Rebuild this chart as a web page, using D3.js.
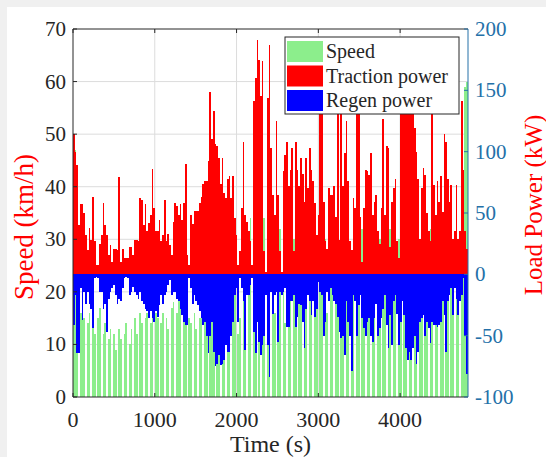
<!DOCTYPE html>
<html>
<head>
<meta charset="utf-8">
<script src="https://cdn.jsdelivr.net/npm/d3@7"></script>
<style>
  html, body { margin: 0; padding: 0; background: #f0f0f0; }
  svg { display: block; }
  text { font-family: "Liberation Serif", "Times New Roman", serif; }
</style>
</head>
<body>
<div id="vis"></div>
<script>
// sampling interval of the drive cycle (s) and end of the time axis
var dt = 21.37;
var timeEnd = 4830;

// vehicle speed (km/h), one value per interval
var speed = [
  50, 47, 14, 0, 16, 15, 15, 0, 14, 16,
  0, 18, 12, 0, 15, 17, 0, 12, 14, 0,
  11, 13, 0, 12, 9, 0, 13, 11, 0, 12,
  14, 0, 10, 13, 0, 15, 12, 0, 16, 14,
  0, 15, 16, 0, 14, 17, 0, 16, 15, 0,
  14, 16, 0, 15, 13, 0, 17, 18, 0, 16,
  19, 18, 0, 17, 19, 0, 15, 14, 0, 16,
  13, 0, 15, 30, 0, 28, 30, 0, 35, 40,
  54, 0, 32, 35, 0, 30, 38, 0, 34, 30,
  0, 28, 26, 0, 12, 15, 0, 30, 32, 0,
  30, 34, 0, 36, 32, 0, 12, 0, 30, 34,
  0, 28, 30, 0, 26, 16, 0, 28, 32, 0,
  30, 14, 0, 28, 32, 0, 30, 17, 0, 30,
  28, 0, 15, 30, 0, 32, 28, 0, 18, 30,
  0, 32, 30, 0, 30, 16, 0, 28, 30, 0,
  30, 32, 0, 28, 18, 0, 30, 32, 0, 28,
  30, 0, 18, 28, 0, 32, 30, 0, 30, 16,
  0, 30, 32, 0, 28, 30, 0, 32, 28, 0,
  30, 32, 0, 30, 28, 0, 30, 32, 0, 28,
  30, 0, 32, 30, 0, 28, 18, 0, 30, 32,
  0, 30, 28, 0, 32, 30, 0, 20, 28, 0,
  30, 32, 0, 28, 30, 0, 22, 30, 0, 30,
  28, 0, 30, 30, 59, 60
];

// traction power (kW)
var traction = [
  114, 100, 89, 40, 57, 57, 50, 32, 20, 38,
  28, 63, 27, 8, 8, 25, 32, 58, 40, 32,
  16, 24, 10, 21, 21, 20, 79, 10, 21, 13,
  13, 13, 22, 22, 16, 28, 28, 27, 62, 61,
  40, 57, 35, 42, 48, 86, 54, 35, 35, 44,
  27, 32, 61, 27, 33, 24, 16, 43, 58, 56,
  48, 57, 44, 58, 90, 16, 8, 48, 41, 52,
  52, 52, 58, 63, 74, 76, 76, 92, 149, 110,
  133, 106, 105, 95, 74, 95, 66, 62, 78, 80,
  62, 80, 46, 32, 8, 19, 54, 108, 48, 43,
  35, 27, 8, 141, 160, 191, 175, 145, 174, 19,
  2, 144, 187, 103, 65, 48, 125, 65, 19, 2,
  84, 97, 108, 72, 85, 103, 19, 108, 85, 72,
  95, 82, 59, 95, 70, 103, 85, 76, 58, 32,
  48, 150, 140, 59, 27, 21, 70, 65, 65, 72,
  47, 145, 28, 155, 72, 99, 125, 76, 27, 20,
  62, 54, 140, 160, 47, 10, 54, 85, 84, 81,
  99, 48, 59, 65, 35, 25, 54, 127, 48, 105,
  103, 22, 59, 70, 78, 27, 13, 145, 165, 150,
  138, 170, 155, 140, 150, 119, 100, 78, 29, 70,
  87, 81, 50, 35, 27, 140, 73, 48, 76, 59,
  80, 51, 114, 108, 78, 59, 73, 29, 35, 73,
  29, 35, 141, 85, 35, 21
];

// regenerative braking power (kW)
var regen = [
  -41, -17, -64, -64, -11, -37, -14, -24, -14, -24,
  -28, -44, -3, -2, -3, -14, -14, -28, -24, -47,
  -20, -14, -11, -9, -17, -24, -20, -22, -11, -3,
  -2, -3, -17, -14, -10, -14, -17, -20, -14, -22,
  -24, -28, -30, -36, -30, -36, -39, -30, -35, -25,
  -17, -24, -17, -14, -9, -5, -17, -14, -14, -20,
  -22, -28, -33, -39, -41, -41, -3, -11, -24, -17,
  -22, -25, -30, -36, -41, -39, -50, -64, -50, -39,
  -63, -75, -73, -66, -74, -73, -70, -58, -63, -63,
  -50, -39, -17, -11, -39, -3, -11, -22, -62, -17,
  -17, -9, -3, -47, -64, -39, -55, -66, -58, -50,
  -17, -58, -84, -14, -32, -17, -14, -55, -14, -17,
  -14, -11, -43, -43, -22, -22, -17, -43, -35, -24,
  -25, -39, -60, -28, -17, -22, -33, -22, -35, -28,
  -6, -14, -17, -50, -39, -14, -22, -11, -17, -22,
  -24, -35, -47, -52, -50, -66, -22, -39, -50, -79,
  -17, -22, -50, -25, -17, -36, -44, -50, -39, -36,
  -50, -55, -36, -24, -50, -44, -36, -28, -17, -41,
  -60, -33, -58, -22, -17, -32, -58, -39, -22, -33,
  -60, -70, -63, -70, -60, -50, -73, -63, -39, -36,
  -33, -50, -39, -44, -56, -39, -41, -41, -43, -41,
  -39, -22, -33, -63, -22, -17, -11, -33, -11, -20,
  -33, -22, -17, -3, -50, -81
];

var timeTicks = [0, 1000, 2000, 3000, 4000];
var speedTicks = [0, 10, 20, 30, 40, 50, 60, 70];
var powerTicks = [-100, -50, 0, 50, 100, 150, 200];
var legendItems = ['Speed', 'Traction power', 'Regen power'];

var width = 546;
var height = 457;
var margin = { top: 29, left: 73, bottom: 60, right: 78 };

var colSpeed = '#8cee8c';
var colTraction = '#ff0000';
var colRegen = '#0000ff';
var colRight = '#2470a8';

var svg = d3.select('#vis').append('svg')
  .attr('width', width)
  .attr('height', height);

// white figure on the grey page
svg.append('rect')
  .attr('x', 7).attr('y', 7)
  .attr('width', width - 7).attr('height', height - 7)
  .attr('fill', '#fff');

var x = d3.scaleLinear()
  .domain([0, timeEnd])
  .range([margin.left, width - margin.right]);

var ySpeed = d3.scaleLinear()
  .domain([0, 70])
  .range([height - margin.bottom, margin.top]);

var yPower = d3.scaleLinear()
  .domain([-100, 200])
  .range([height - margin.bottom, margin.top]);

var x0 = x.range()[0], x1 = x.range()[1];
var yb = ySpeed.range()[0], yt = ySpeed.range()[1];

// grid
var grid = svg.append('g').attr('stroke', '#dcdcdc').attr('stroke-width', 1);
grid.selectAll('.vg').data(timeTicks.slice(1))
  .enter().append('line')
  .attr('x1', d => x(d)).attr('x2', d => x(d))
  .attr('y1', yt).attr('y2', yb);
grid.selectAll('.hg').data(speedTicks.slice(1, -1))
  .enter().append('line')
  .attr('x1', x0).attr('x2', x1)
  .attr('y1', d => ySpeed(d)).attr('y2', d => ySpeed(d));

// bars
var bars = svg.append('g').attr('shape-rendering', 'crispEdges');

function barX(d, i) { return x(i * dt); }
function barW(d, i) { return Math.max(0, x(Math.min((i + 1) * dt, timeEnd)) - x(i * dt)); }

bars.selectAll('.speed').data(speed)
  .enter().append('rect')
  .attr('class', 'speed')
  .attr('x', barX).attr('width', barW)
  .attr('y', d => ySpeed(d))
  .attr('height', d => yb - ySpeed(d))
  .attr('fill', colSpeed);

bars.selectAll('.traction').data(traction)
  .enter().append('rect')
  .attr('class', 'traction')
  .attr('x', barX).attr('width', barW)
  .attr('y', d => yPower(d))
  .attr('height', d => yPower(0) - yPower(d))
  .attr('fill', colTraction);

bars.selectAll('.regen').data(regen)
  .enter().append('rect')
  .attr('class', 'regen')
  .attr('x', barX).attr('width', barW)
  .attr('y', yPower(0))
  .attr('height', d => yPower(d) - yPower(0))
  .attr('fill', colRegen);

// box: top, left and bottom black, right axis blue
var box = svg.append('g').attr('fill', 'none');
box.append('path')
  .attr('d', 'M' + x1 + ',' + yt + 'H' + x0 + 'V' + yb + 'H' + x1)
  .attr('stroke', '#262626').attr('stroke-width', 1);
box.append('line')
  .attr('x1', x1).attr('x2', x1).attr('y1', yt).attr('y2', yb)
  .attr('stroke', colRight).attr('stroke-width', 1);

// inward ticks
var tk = 4;
var ticks = svg.append('g').attr('stroke-width', 1);
timeTicks.forEach(function (t) {
  ticks.append('line').attr('stroke', '#262626')
    .attr('x1', x(t)).attr('x2', x(t)).attr('y1', yb).attr('y2', yb - tk);
  ticks.append('line').attr('stroke', '#262626')
    .attr('x1', x(t)).attr('x2', x(t)).attr('y1', yt).attr('y2', yt + tk);
});
speedTicks.forEach(function (s) {
  ticks.append('line').attr('stroke', '#262626')
    .attr('x1', x0).attr('x2', x0 + tk).attr('y1', ySpeed(s)).attr('y2', ySpeed(s));
});
powerTicks.forEach(function (p) {
  ticks.append('line').attr('stroke', colRight)
    .attr('x1', x1).attr('x2', x1 - tk).attr('y1', yPower(p)).attr('y2', yPower(p));
});

// tick labels
svg.append('g').selectAll('text').data(timeTicks)
  .enter().append('text')
  .attr('x', d => x(d)).attr('y', yb + 30)
  .attr('text-anchor', 'middle')
  .style('font-size', '22px')
  .attr('fill', '#262626')
  .text(d => d);

svg.append('g').selectAll('text').data(speedTicks)
  .enter().append('text')
  .attr('x', x0 - 7).attr('y', d => ySpeed(d) + 7)
  .attr('text-anchor', 'end')
  .style('font-size', '21px')
  .attr('fill', '#262626')
  .text(d => d);

svg.append('g').selectAll('text').data(powerTicks)
  .enter().append('text')
  .attr('x', x1 + 7).attr('y', d => yPower(d) + 7)
  .attr('text-anchor', 'start')
  .style('font-size', '21px')
  .attr('fill', colRight)
  .text(d => d);

// axis titles
svg.append('text')
  .attr('x', (x0 + x1) / 2).attr('y', 452)
  .attr('text-anchor', 'middle')
  .style('font-size', '24px')
  .attr('fill', '#262626')
  .text('Time (s)');

svg.append('text')
  .attr('transform', 'translate(33,' + 227 + ') rotate(-90)')
  .attr('text-anchor', 'middle')
  .style('font-size', '27px')
  .attr('fill', colTraction)
  .text('Speed (km/h)');

svg.append('text')
  .attr('transform', 'translate(542,' + 205 + ') rotate(-90)')
  .attr('text-anchor', 'middle')
  .style('font-size', '25px')
  .attr('fill', colTraction)
  .text('Load Power (kW)');

// legend
var legend = svg.append('g');
legend.append('rect')
  .attr('x', 285).attr('y', 37)
  .attr('width', 174).attr('height', 77)
  .attr('fill', '#fff').attr('stroke', '#262626').attr('stroke-width', 1);

var legendCols = [colSpeed, colTraction, colRegen];
legend.selectAll('.sw').data(legendItems)
  .enter().append('rect')
  .attr('x', 287).attr('y', (d, i) => 41 + i * 24.5)
  .attr('width', 36).attr('height', 21)
  .attr('fill', (d, i) => legendCols[i]);

legend.selectAll('.lt').data(legendItems)
  .enter().append('text')
  .attr('x', 326).attr('y', (d, i) => 58 + i * 24.5)
  .style('font-size', '20px')
  .attr('fill', '#262626')
  .text(d => d);
</script>
</body>
</html>
